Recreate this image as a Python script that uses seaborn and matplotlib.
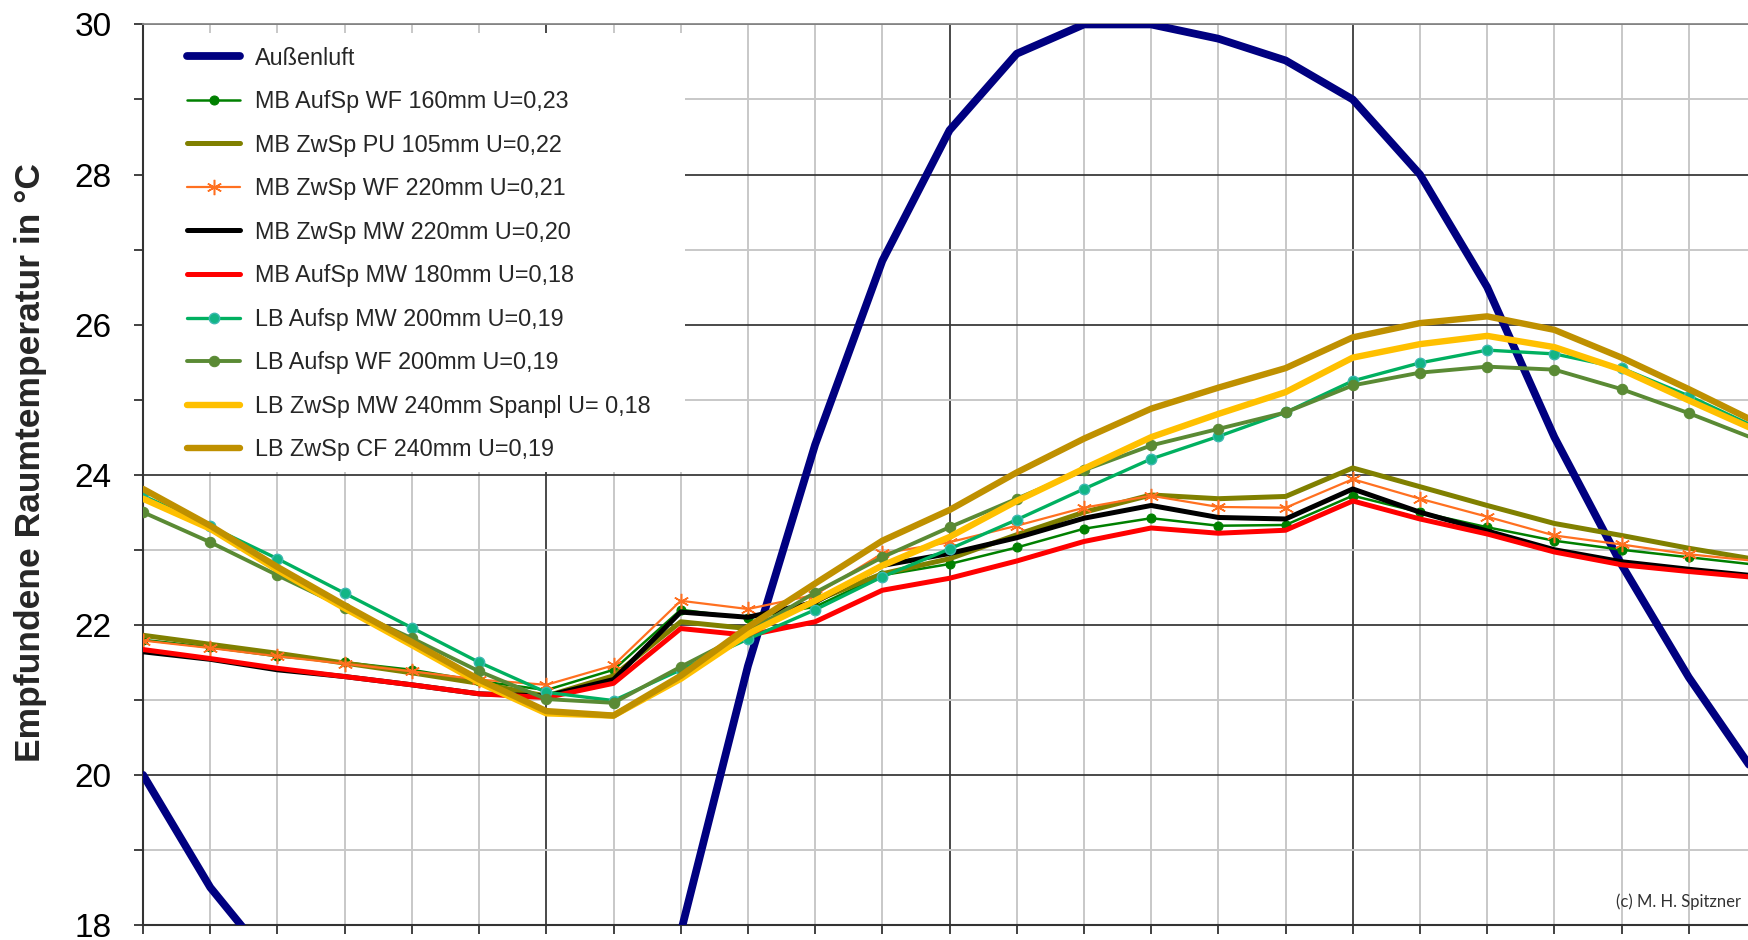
import matplotlib
matplotlib.use("Agg")
import matplotlib.pyplot as plt
from matplotlib import font_manager
from matplotlib.patches import Rectangle
from matplotlib.ticker import MultipleLocator, NullFormatter
import pandas as pd
import seaborn as sns

# --- Daten ---
HOURS = [0, 1, 2, 3, 4, 5, 6, 7, 8, 9, 10, 11, 12,
         13, 14, 15, 16, 17, 18, 19, 20, 21, 22, 23, 24]

AUSSENLUFT = [20.0, 18.5, 17.4, 16.6, 16.1, 15.9, 16.2, 16.9, 17.9, 21.45, 24.4, 26.85, 28.59,
              29.61, 30.0, 30.0, 29.81, 29.52, 29.0, 28.0, 26.5, 24.5, 22.8, 21.3, 20.0]
MB_AUFSP_WF_160 = [21.80, 21.70, 21.58, 21.50, 21.40, 21.25, 21.13, 21.40, 22.20, 22.09, 22.24, 22.66, 22.81,
                   23.03, 23.28, 23.42, 23.32, 23.33, 23.72, 23.50, 23.30, 23.12, 23.00, 22.90, 22.80]
MB_ZWSP_PU_105 = [21.86, 21.74, 21.62, 21.49, 21.36, 21.22, 21.05, 21.32, 22.04, 21.95, 22.32, 22.68, 22.88,
                  23.20, 23.50, 23.73, 23.68, 23.71, 24.09, 23.84, 23.59, 23.35, 23.19, 23.02, 22.87]
MB_ZWSP_WF_220 = [21.79, 21.69, 21.58, 21.48, 21.38, 21.27, 21.20, 21.46, 22.32, 22.21, 22.40, 22.95, 23.10,
                  23.32, 23.56, 23.72, 23.57, 23.56, 23.94, 23.68, 23.44, 23.19, 23.07, 22.94, 22.85]
MB_ZWSP_MW_220 = [21.64, 21.54, 21.40, 21.31, 21.20, 21.08, 21.05, 21.27, 22.17, 22.10, 22.30, 22.79, 22.95,
                  23.16, 23.42, 23.59, 23.43, 23.41, 23.81, 23.50, 23.25, 23.00, 22.84, 22.74, 22.65]
MB_AUFSP_MW_180 = [21.67, 21.55, 21.42, 21.31, 21.20, 21.08, 21.03, 21.22, 21.95, 21.86, 22.04, 22.46, 22.62,
                   22.85, 23.11, 23.29, 23.22, 23.26, 23.65, 23.41, 23.21, 22.97, 22.80, 22.71, 22.63]
LB_AUFSP_MW_200 = [23.72, 23.31, 22.88, 22.42, 21.96, 21.50, 21.10, 20.99, 21.40, 21.81, 22.20, 22.64, 23.01,
                   23.40, 23.81, 24.21, 24.51, 24.83, 25.25, 25.49, 25.66, 25.61, 25.42, 25.05, 24.63]
LB_AUFSP_WF_200 = [23.50, 23.10, 22.66, 22.23, 21.82, 21.38, 21.01, 20.96, 21.44, 21.90, 22.43, 22.90, 23.30,
                   23.68, 24.06, 24.39, 24.61, 24.83, 25.19, 25.36, 25.44, 25.40, 25.14, 24.82, 24.47]
LB_ZWSP_MW_240 = [23.68, 23.28, 22.73, 22.22, 21.73, 21.23, 20.82, 20.79, 21.28, 21.88, 22.32, 22.79, 23.17,
                  23.65, 24.08, 24.50, 24.81, 25.10, 25.56, 25.74, 25.85, 25.70, 25.40, 24.99, 24.59]
LB_ZWSP_CF_240 = [23.81, 23.32, 22.77, 22.26, 21.77, 21.27, 20.85, 20.79, 21.32, 21.97, 22.55, 23.12, 23.53,
                  24.03, 24.48, 24.88, 25.16, 25.42, 25.83, 26.02, 26.11, 25.93, 25.56, 25.14, 24.70]

LABELS = [
    "Außenluft",
    "MB AufSp WF 160mm U=0,23",
    "MB ZwSp PU 105mm U=0,22",
    "MB ZwSp WF 220mm U=0,21",
    "MB ZwSp MW 220mm U=0,20",
    "MB AufSp MW 180mm U=0,18",
    "LB Aufsp MW 200mm U=0,19",
    "LB Aufsp WF 200mm U=0,19",
    "LB ZwSp MW 240mm Spanpl U= 0,18",
    "LB ZwSp CF 240mm U=0,19",
]
SERIES = [AUSSENLUFT, MB_AUFSP_WF_160, MB_ZWSP_PU_105, MB_ZWSP_WF_220, MB_ZWSP_MW_220,
          MB_AUFSP_MW_180, LB_AUFSP_MW_200, LB_AUFSP_WF_200, LB_ZWSP_MW_240, LB_ZWSP_CF_240]

# Stil je Serie (Farbe, Linienbreite, Marker)
STYLES = [
    dict(color="#000080", lw=5.6, marker=None),
    dict(color="#008000", lw=1.8, marker="o", ms=6.5, mec="#008000"),
    dict(color="#808000", lw=3.6, marker=None),
    dict(color="#FF7020", lw=1.6, marker=(6, 2, 0), ms=11, mew=1.1, mec="#FF7020"),
    dict(color="#000000", lw=3.6, marker=None),
    dict(color="#FF0000", lw=3.6, marker=None),
    dict(color="#00B060", lw=2.4, marker="o", ms=7.5, mfc="#12B585", mec="#3CB8B0", mew=1.0),
    dict(color="#5A8A34", lw=2.8, marker="o", ms=7.5, mec="#5A8A34"),
    dict(color="#FFC000", lw=4.6, marker=None),
    dict(color="#BF9000", lw=4.6, marker=None),
]

frames = [pd.DataFrame({"Stunde": HOURS, "Temperatur": vals, "Serie": lab})
          for lab, vals in zip(LABELS, SERIES)]
df = pd.concat(frames, ignore_index=True)

sns.set_style("white")
plt.rcParams["font.family"] = ["Liberation Sans", "DejaVu Sans"]

installed = {f.name for f in font_manager.fontManager.ttflist}
if "Liberation Sans Narrow" in installed:
    credit_font, credit_size = ["Liberation Sans Narrow", "DejaVu Sans"], 15
else:
    credit_font, credit_size = ["Lato", "DejaVu Sans"], 12

fig = plt.figure(figsize=(17.49, 9.40), dpi=100)
ax = fig.add_axes([0.0818, 0.016, 0.9222, 0.958])

for i, (lab, st) in enumerate(zip(LABELS, STYLES)):
    sub = df[df["Serie"] == lab]
    sns.lineplot(data=sub, x="Stunde", y="Temperatur", ax=ax, label=lab,
                 errorbar=None, zorder=3 + i, **st)

ax.set_xlim(0, 24)
ax.set_ylim(18, 30)

ax.xaxis.set_major_locator(MultipleLocator(6))
ax.xaxis.set_minor_locator(MultipleLocator(1))
ax.yaxis.set_major_locator(MultipleLocator(2))
ax.yaxis.set_minor_locator(MultipleLocator(1))
ax.xaxis.set_major_formatter(NullFormatter())

ax.set_axisbelow(True)
ax.grid(which="major", color="#3a3a3a", lw=1.3)
ax.grid(which="minor", color="#c8c8c8", lw=1.4)

ax.tick_params(axis="both", which="both", direction="out", length=6.5, width=1.3,
               color="#333333", left=True, bottom=True)
ax.tick_params(axis="y", which="major", labelsize=24, pad=16, labelcolor="black")

for side in ["left", "bottom"]:
    ax.spines[side].set_color("#333333")
    ax.spines[side].set_linewidth(1.5)
ax.spines["top"].set_color("#8a8a8a")
ax.spines["top"].set_linewidth(1.3)
ax.spines["right"].set_visible(False)

ax.set_xlabel("")
ax.set_ylabel("Empfundene Raumtemperatur in °C", fontsize=25.5, fontweight="bold")
ax.yaxis.set_label_coords(-0.0595, 0.514)

# weisser Hintergrund hinter der Legende (verdeckt das Gitter)
ax.add_patch(Rectangle((0, 0.503), 0.336, 0.488, transform=ax.transAxes,
                       facecolor="white", edgecolor="none", zorder=1))

ax.legend(loc="upper left", bbox_to_anchor=(0.0273, 0.9755), frameon=False,
          fontsize=16.8, borderpad=0, borderaxespad=0, handlelength=2.27,
          handletextpad=0.64, labelspacing=0.88, numpoints=1)

fig.text(1616 / 1749, 1 - 902 / 940, "(c) M. H. Spitzner", fontsize=credit_size,
         family=credit_font, color="#333333", ha="left", va="center")

fig.savefig("out.png", dpi=100)
